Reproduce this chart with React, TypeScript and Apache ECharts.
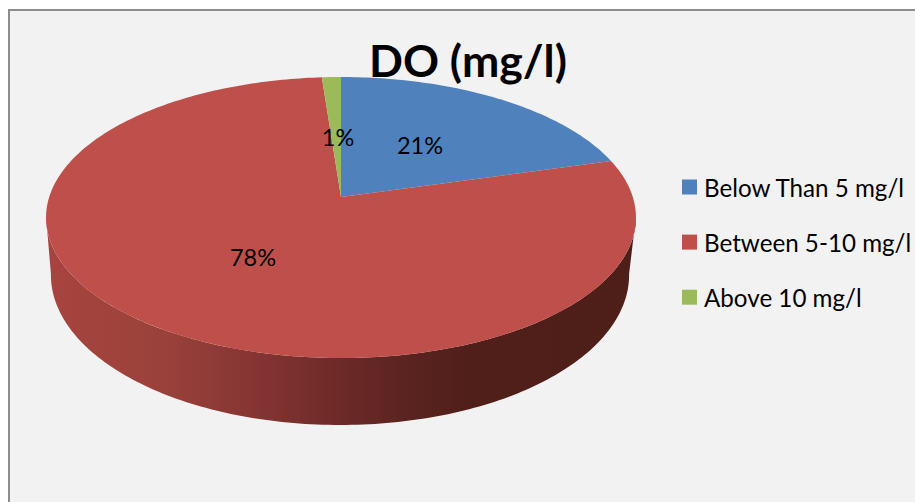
import React, { useEffect, useRef } from "react";
import * as echarts from "echarts";

const categories = ["Below Than 5 mg/l", "Between 5-10 mg/l", "Above 10 mg/l"];
const sliceValues = [20.6, 78.2, 1.2];
const sliceColors = ["#4f81bd", "#be4f4b", "#9bbb59"];
const titleText = "DO (mg/l)";

const FONT = "Lato, Carlito, 'Noto Sans', sans-serif";
const TOP_FACE = { cx: 341, cy: 197, a: 291.8, b: 137.5, k: 0.146 };
const BOTTOM_FACE = { cx: 340, cy: 253.1, a: 286, b: 146.8, k: 0.146 };
const LABEL_POS = [
  [420, 144.5],
  [253, 256.5],
  [338, 136.5],
];
const WALL_FROM = 98;
const WALL_TO = 262;

const total = sliceValues.reduce((a, b) => a + b, 0);
const startOf = (i: number) =>
  (sliceValues.slice(0, i).reduce((a, b) => a + b, 0) / total) * 360;

function project(deg: number, f: typeof TOP_FACE): number[] {
  const t = (deg * Math.PI) / 180;
  const u = Math.sin(t);
  const v = Math.cos(t);
  const w = 1 + f.k * v;
  return [f.cx + (f.a * u) / w, f.cy - (f.b * v) / w];
}

function arc(from: number, to: number, f: typeof TOP_FACE): number[][] {
  const pts: number[][] = [];
  const n = Math.max(2, Math.ceil(to - from));
  for (let i = 0; i <= n; i++) pts.push(project(from + ((to - from) * i) / n, f));
  return pts;
}

const wallFill = new echarts.graphic.LinearGradient(0, 0, 1, 0, [
  { offset: 0, color: "#a8443f" },
  { offset: 0.2, color: "#9a413b" },
  { offset: 0.38, color: "#813331" },
  { offset: 0.5, color: "#6c2a28" },
  { offset: 0.62, color: "#592320" },
  { offset: 0.72, color: "#501f1a" },
  { offset: 1, color: "#4e1e19" },
]);

function makeRender(index: number) {
  return (_params: unknown, api: any) => {
    const value = api.value(0) as number;
    const start = startOf(index);
    const end = start + (value / total) * 360;
    const children: any[] = [];
    const wFrom = Math.max(start, WALL_FROM);
    const wTo = Math.min(end, WALL_TO);
    if (wTo > wFrom) {
      children.push({
        type: "polygon",
        shape: {
          points: [...arc(wFrom, wTo, TOP_FACE), ...arc(wFrom, wTo, BOTTOM_FACE).reverse()],
        },
        style: { fill: wallFill },
      });
    }
    children.push({
      type: "polygon",
      shape: { points: [[TOP_FACE.cx, TOP_FACE.cy], ...arc(start, end, TOP_FACE)] },
      style: { fill: sliceColors[index] },
    });
    children.push({
      type: "text",
      x: LABEL_POS[index][0],
      y: LABEL_POS[index][1],
      style: {
        text: `${Math.round(value)}%`,
        fill: "#000000",
        font: `23.5px ${FONT}`,
        textAlign: "center",
        textVerticalAlign: "middle",
      },
      z2: 100,
    });
    return { type: "group", children };
  };
}

export default function App() {
  const ref = useRef<HTMLDivElement>(null);
  useEffect(() => {
    const chart = echarts.init(ref.current as HTMLDivElement, undefined, { renderer: "svg" });
    chart.setOption({
      animation: false,
      backgroundColor: "#ffffff",
      title: {
        text: titleText,
        left: 468,
        top: 37,
        padding: 0,
        textAlign: "center",
        textStyle: { fontFamily: FONT, fontSize: 44.6, fontWeight: "bold", color: "#000000" },
      },
      legend: {
        orient: "vertical",
        left: 682,
        top: 175,
        padding: 0,
        itemWidth: 15,
        itemHeight: 15,
        itemGap: 31.1,
        icon: "rect",
        data: categories,
        selectedMode: false,
        textStyle: {
          fontFamily: FONT,
          fontSize: 24.2,
          color: "#000000",
          padding: [0, 0, 0, 2],
        },
      },
      graphic: [
        {
          type: "rect",
          z: -10,
          shape: { x: 9, y: 10, width: 920, height: 505 },
          style: { fill: "#f2f2f2", stroke: "#8c8c8c", lineWidth: 2 },
        },
      ],
      series: categories.map((name, i) => ({
        type: "custom",
        name,
        coordinateSystem: "none",
        itemStyle: { color: sliceColors[i] },
        data: [[sliceValues[i]]],
        renderItem: makeRender(i),
      })),
    });
    return () => chart.dispose();
  }, []);
  return (
    <div
      ref={ref}
      style={{ position: "absolute", left: 0, top: 0, width: 915, height: 502 }}
    />
  );
}
